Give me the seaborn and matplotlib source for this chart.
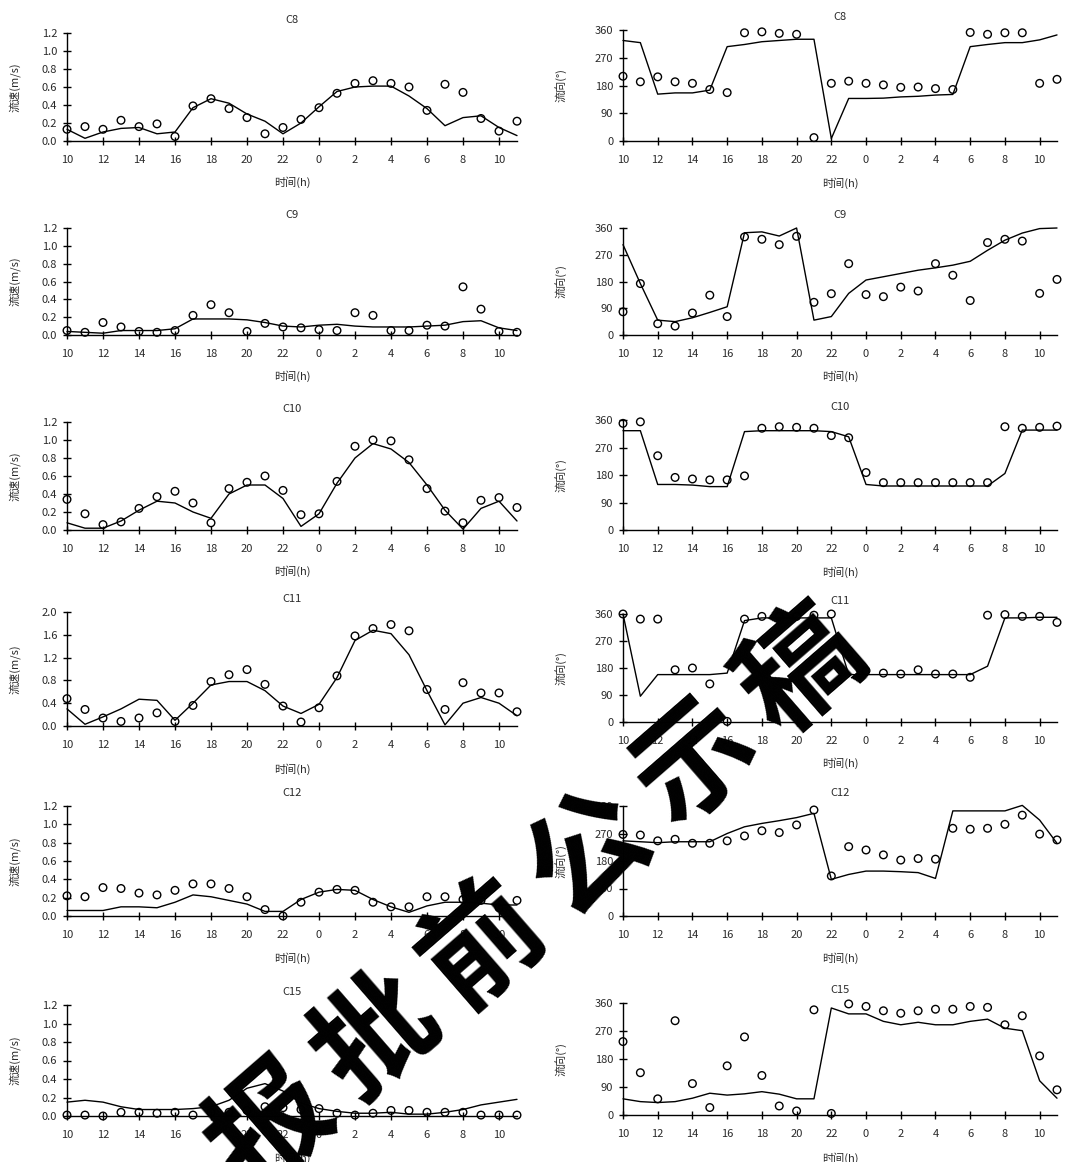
import numpy as np
import pandas as pd
import seaborn as sns
import matplotlib
matplotlib.use("Agg")
import matplotlib.pyplot as plt

sns.set_theme(style="ticks")
plt.rcParams['font.family'] = ['Noto Sans CJK SC', 'DejaVu Sans']
plt.rcParams['axes.unicode_minus'] = False

# ---------------- data ----------------
hours = list(range(10, 36))
xtick_pos = list(range(10, 35, 2))
xtick_labels = ["10", "12", "14", "16", "18", "20", "22", "0", "2", "4", "6", "8", "10"]
stations = ["C8", "C9", "C10", "C11", "C12", "C15"]
watermark = "报批前公示稿"

# speed (m/s): observed points / modelled line
c8_spd_obs = [0.13, 0.16, 0.13, 0.23, 0.16, 0.19, 0.05, 0.39, 0.47, 0.36, 0.26, 0.08, 0.15,
              0.24, 0.37, 0.53, 0.64, 0.67, 0.64, 0.60, 0.34, 0.63, 0.54, 0.25, 0.11, 0.22]
c8_spd_mod = [0.13, 0.03, 0.10, 0.14, 0.15, 0.08, 0.10, 0.37, 0.47, 0.42, 0.30, 0.22, 0.08,
              0.20, 0.38, 0.55, 0.60, 0.61, 0.61, 0.50, 0.36, 0.17, 0.26, 0.28, 0.15, 0.06]
c9_spd_obs = [0.05, 0.03, 0.14, 0.09, 0.04, 0.03, 0.05, 0.22, 0.34, 0.25, 0.04, 0.13, 0.09,
              0.08, 0.06, 0.05, 0.25, 0.22, 0.05, 0.05, 0.11, 0.10, 0.54, 0.29, 0.04, 0.03]
c9_spd_mod = [0.04, 0.03, 0.02, 0.05, 0.05, 0.05, 0.07, 0.18, 0.18, 0.18, 0.17, 0.14, 0.10,
              0.09, 0.11, 0.12, 0.10, 0.09, 0.09, 0.09, 0.10, 0.11, 0.15, 0.16, 0.08, 0.05]
c10_spd_obs = [0.34, 0.18, 0.06, 0.09, 0.24, 0.37, 0.43, 0.30, 0.08, 0.46, 0.53, 0.60, 0.44,
               0.17, 0.18, 0.54, 0.93, 1.00, 0.99, 0.78, 0.46, 0.21, 0.08, 0.33, 0.36, 0.25]
c10_spd_mod = [0.08, 0.02, 0.02, 0.10, 0.22, 0.32, 0.30, 0.20, 0.13, 0.40, 0.50, 0.50, 0.35,
               0.04, 0.18, 0.52, 0.80, 0.96, 0.90, 0.75, 0.50, 0.22, 0.01, 0.24, 0.32, 0.10]
c11_spd_obs = [0.48, 0.29, 0.14, 0.08, 0.14, 0.23, 0.08, 0.36, 0.78, 0.90, 0.99, 0.73, 0.35,
               0.07, 0.32, 0.88, 1.58, 1.71, 1.78, 1.67, 0.64, 0.29, 0.76, 0.58, 0.58, 0.25]
c11_spd_mod = [0.30, 0.03, 0.16, 0.30, 0.47, 0.45, 0.10, 0.40, 0.72, 0.78, 0.78, 0.62, 0.35,
               0.22, 0.38, 0.85, 1.50, 1.68, 1.62, 1.25, 0.62, 0.02, 0.40, 0.50, 0.40, 0.18]
c12_spd_obs = [0.22, 0.21, 0.31, 0.30, 0.25, 0.23, 0.28, 0.35, 0.35, 0.30, 0.21, 0.07, 0.00,
               0.15, 0.26, 0.29, 0.28, 0.15, 0.10, 0.10, 0.21, 0.21, 0.18, 0.17, 0.09, 0.17]
c12_spd_mod = [0.06, 0.06, 0.06, 0.10, 0.10, 0.09, 0.15, 0.23, 0.21, 0.17, 0.13, 0.05, 0.05,
               0.18, 0.26, 0.29, 0.28, 0.18, 0.10, 0.04, 0.11, 0.15, 0.15, 0.14, 0.12, 0.12]
c15_spd_obs = [0.01, 0.01, 0.00, 0.04, 0.04, 0.03, 0.04, 0.01, 0.04, 0.04, 0.06, 0.10, 0.09,
               0.07, 0.08, 0.03, 0.01, 0.03, 0.06, 0.06, 0.04, 0.04, 0.04, 0.01, 0.01, 0.01]
c15_spd_mod = [0.15, 0.17, 0.15, 0.10, 0.07, 0.07, 0.07, 0.08, 0.10, 0.17, 0.30, 0.35, 0.27,
               0.14, 0.08, 0.05, 0.03, 0.03, 0.04, 0.02, 0.02, 0.04, 0.07, 0.12, 0.15, 0.18]

# direction (deg): observed points / modelled line
c8_dir_obs = [210, 192, 208, 192, 187, 167, 157, 351, 354, 349, 346, 11, 187,
              194, 187, 182, 174, 175, 170, 167, 352, 346, 351, 351, 187, 200]
c8_dir_mod = [326, 319, 152, 156, 156, 165, 306, 313, 322, 326, 330, 330, 8,
              138, 138, 139, 143, 145, 149, 151, 306, 313, 319, 319, 328, 344]
c9_dir_obs = [78, 173, 38, 30, 74, 134, 62, 330, 322, 304, 332, 110, 139,
              240, 136, 129, 161, 148, 240, 201, 116, 311, 322, 316, 140, 187]
c9_dir_mod = [304, 173, 50, 45, 58, 76, 95, 344, 347, 333, 360, 50, 62,
              140, 185, 196, 207, 218, 226, 235, 248, 285, 319, 343, 358, 360]
c10_dir_obs = [349, 354, 243, 172, 167, 164, 164, 177, 333, 338, 336, 333, 309,
               302, 188, 155, 155, 155, 155, 155, 155, 155, 338, 333, 336, 340]
c10_dir_mod = [325, 325, 149, 149, 147, 142, 142, 322, 325, 325, 325, 325, 322,
               305, 149, 144, 144, 144, 144, 144, 144, 144, 185, 327, 327, 327]
c11_dir_obs = [360, 343, 343, 174, 180, 127, 2, 343, 352, 352, 352, 356, 360,
               227, 171, 163, 160, 174, 160, 160, 149, 356, 358, 352, 352, 332]
c11_dir_mod = [360, 86, 158, 158, 158, 158, 163, 338, 347, 347, 347, 347, 347,
               158, 158, 158, 158, 158, 158, 158, 158, 186, 347, 347, 349, 349]
c12_dir_obs = [267, 265, 246, 251, 238, 238, 246, 262, 279, 273, 298, 347, 131,
               227, 216, 200, 183, 188, 186, 287, 284, 287, 300, 330, 268, 249]
c12_dir_mod = [246, 243, 240, 243, 243, 243, 270, 292, 303, 312, 322, 336, 120,
               136, 147, 147, 145, 142, 123, 344, 344, 344, 344, 362, 314, 238]
c15_dir_obs = [236, 136, 52, 303, 101, 24, 158, 251, 127, 29, 13, 338, 5,
               357, 349, 335, 327, 335, 340, 340, 349, 346, 290, 319, 190, 81]
c15_dir_mod = [52, 43, 40, 43, 54, 70, 64, 68, 75, 67, 52, 52, 344,
               325, 325, 301, 290, 298, 290, 290, 301, 308, 279, 271, 110, 54]

speed_obs = [c8_spd_obs, c9_spd_obs, c10_spd_obs, c11_spd_obs, c12_spd_obs, c15_spd_obs]
speed_mod = [c8_spd_mod, c9_spd_mod, c10_spd_mod, c11_spd_mod, c12_spd_mod, c15_spd_mod]
dir_obs = [c8_dir_obs, c9_dir_obs, c10_dir_obs, c11_dir_obs, c12_dir_obs, c15_dir_obs]
dir_mod = [c8_dir_mod, c9_dir_mod, c10_dir_mod, c11_dir_mod, c12_dir_mod, c15_dir_mod]
speed_max = [1.2, 1.2, 1.2, 2.0, 1.2, 1.2]
speed_step = [0.2, 0.2, 0.2, 0.4, 0.2, 0.2]

# ---------------- layout ----------------
W, H = 1083, 1162
fig = plt.figure(figsize=(W / 100, H / 100), dpi=100)
fig.patch.set_facecolor("white")

left_rows = [(33, 141), (228, 335), (422, 530), (612, 726), (806, 916), (1005, 1116)]
right_rows = [(30, 141), (228, 335), (420, 530), (614, 722), (806, 916), (1003, 1115)]
LX0, LX1 = 67, 517
RX0, RX1 = 623, 1057

txt_col = "#2a2a2a"


def style_axis(ax, ymax, yticks, yfmt):
    ax.set_xlim(10, 35)
    ax.set_ylim(0, ymax)
    ax.set_facecolor("white")
    for s in ["top", "right"]:
        ax.spines[s].set_visible(False)
    for s in ["left", "bottom"]:
        ax.spines[s].set_color("black")
        ax.spines[s].set_linewidth(1.0)
    ax.set_xticks(xtick_pos)
    ax.set_xticklabels(xtick_labels)
    ax.set_yticks(yticks)
    ax.set_yticklabels([yfmt(v) for v in yticks])
    ax.tick_params(axis="both", direction="inout", length=6, width=1.0, color="black",
                   labelsize=8, labelcolor=txt_col)
    ax.tick_params(axis="x", pad=7)
    ax.tick_params(axis="y", pad=4)
    ax.grid(False)


for i, st in enumerate(stations):
    # speed panel
    t, b = left_rows[i]
    axl = fig.add_axes([LX0 / W, 1 - b / H, (LX1 - LX0) / W, (b - t) / H])
    df = pd.DataFrame({"h": hours, "obs": speed_obs[i], "mod": speed_mod[i]})
    sns.lineplot(data=df, x="h", y="mod", ax=axl, color="black", linewidth=1.0,
                 clip_on=False)
    sns.scatterplot(data=df, x="h", y="obs", ax=axl, marker="o", s=30,
                    facecolor="none", edgecolor="black", linewidth=1.0, clip_on=False,
                    zorder=3)
    n = int(round(speed_max[i] / speed_step[i]))
    yt = [round(k * speed_step[i], 1) for k in range(n + 1)]
    style_axis(axl, speed_max[i], yt, lambda v: f"{v:.1f}")
    axl.set_title(st, fontsize=8, color=txt_col, pad=7)
    axl.set_xlabel("时间(h)", fontsize=8, color=txt_col)
    axl.set_ylabel("流速(m/s)", fontsize=8, color=txt_col)
    axl.yaxis.set_label_coords(-0.104, 0.5)
    axl.xaxis.set_label_coords(0.5, -0.33)

    # direction panel
    t, b = right_rows[i]
    axr = fig.add_axes([RX0 / W, 1 - b / H, (RX1 - RX0) / W, (b - t) / H])
    dfd = pd.DataFrame({"h": hours, "obs": dir_obs[i], "mod": dir_mod[i]})
    sns.lineplot(data=dfd, x="h", y="mod", ax=axr, color="black", linewidth=1.0,
                 clip_on=False)
    sns.scatterplot(data=dfd, x="h", y="obs", ax=axr, marker="o", s=30,
                    facecolor="none", edgecolor="black", linewidth=1.0, clip_on=False,
                    zorder=3)
    style_axis(axr, 360, [0, 90, 180, 270, 360], lambda v: f"{int(v)}")
    axr.set_title(st, fontsize=8, color=txt_col, pad=7)
    axr.set_xlabel("时间(h)", fontsize=8, color=txt_col)
    axr.set_ylabel("流向(°)", fontsize=8, color=txt_col)
    axr.yaxis.set_label_coords(-0.129, 0.5)
    axr.xaxis.set_label_coords(0.5, -0.33)

# watermark: characters laid out along a diagonal
wm_start = (272, 1128)   # pixel centre of first character
wm_end = (802, 672)      # pixel centre of last character
nwm = len(watermark)
for k, ch in enumerate(watermark):
    px = wm_start[0] + (wm_end[0] - wm_start[0]) * k / (nwm - 1)
    py = wm_start[1] + (wm_end[1] - wm_start[1]) * k / (nwm - 1)
    fig.text(px / W, 1 - py / H, ch, rotation=41, rotation_mode="anchor",
             ha="center", va="center", fontsize=86, color="black", fontweight="semibold",
             family=["Noto Sans CJK SC", "DejaVu Sans"], zorder=10)

fig.savefig("out.png", dpi=100, facecolor="white")
